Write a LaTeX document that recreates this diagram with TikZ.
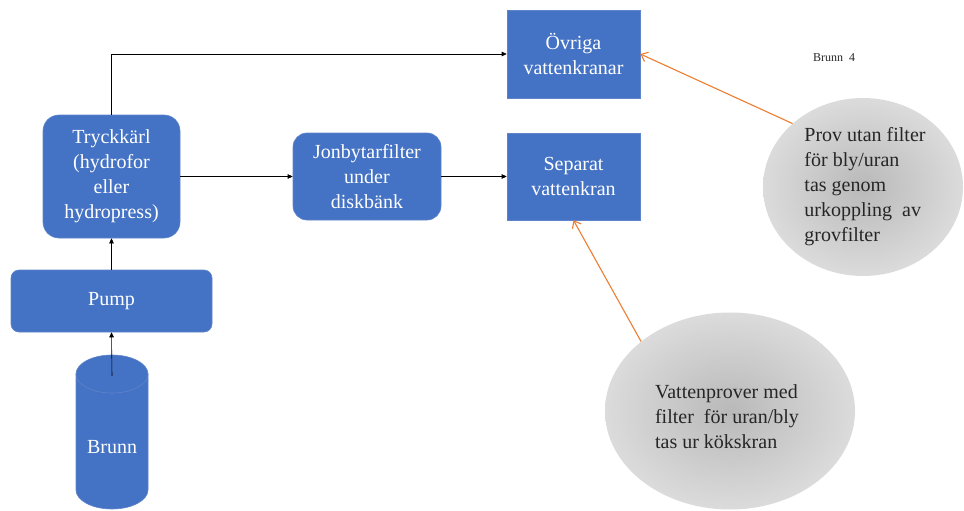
\documentclass[tikz,border=0pt]{standalone}
\usepackage{fontspec}
\setmainfont{Liberation Serif}
\newfontfamily\tnr{Liberation Serif}
\usetikzlibrary{shapes.geometric,arrows.meta}
\definecolor{boxblue}{HTML}{4472C4}
\definecolor{boxedge}{HTML}{5F84C9}
\definecolor{orangeline}{HTML}{ED7D31}
\definecolor{darktext}{HTML}{262626}
\tikzset{
  bluebox/.style={draw=boxedge, line width=0.6pt, fill=boxblue, text=white, align=center,
    font=\tnr\fontsize{20}{25}\selectfont, inner sep=0pt},
  roundbox/.style={bluebox, rounded corners=14pt},
  grayell/.style={ellipse, draw=none, inner color=gray!55, outer color=gray!28},
  ellText/.style={align=left, text=darktext, font=\tnr\fontsize{20}{25}\selectfont, inner sep=0pt},
  flow/.style={draw=black, line width=0.6pt, -{Triangle[length=5pt,width=4.5pt]}},
  note/.style={draw=orangeline, line width=1.1pt, -{Straight Barb[length=6pt,width=10pt]}},
}
\begin{document}
\begin{tikzpicture}[x=1pt,y=-1pt]
\useasboundingbox (0,0) rectangle (964,511);

% well cylinder
\path[draw=boxedge, line width=0.6pt, fill=boxblue]
  (76,374) -- (76,490) arc[start angle=180, end angle=0, x radius=36, y radius=19] -- (148,374) -- cycle;
\path[draw=boxedge, line width=0.6pt, fill=boxblue] (112,374) ellipse[x radius=36, y radius=19];
\node[text=white, font=\tnr\fontsize{20}{25}\selectfont] (brunn) at (112,447) {Brunn};
\coordinate (wellout) at (112,376);

\node[roundbox, minimum width=201pt, minimum height=62pt, rounded corners=8pt] (pump) at (111.5,301) {Pump};
\node[roundbox, minimum width=137pt, minimum height=123pt, rounded corners=16pt] (tryck) at (111.5,176.5)
  {Tryckkärl\\(hydrofor\\eller\\hydropress)};
\node[roundbox, minimum width=148pt, minimum height=87pt] (jon) at (367,176.5)
  {Jonbytarfilter\\under\\diskbänk};
\node[bluebox, minimum width=133pt, minimum height=88pt] (ovr) at (573.5,54) {Övriga\\vattenkranar};
\node[bluebox, minimum width=133pt, minimum height=87pt] (sep) at (573.5,176.5) {Separat\\vattenkran};

\node[font=\tnr\fontsize{12}{14}\selectfont, text=darktext] (label) at (834,58) {Brunn\ \ 4};

\node[grayell, minimum width=200pt, minimum height=178pt] (e1) at (863,187) {};
\node[ellText] (t1) at (865,187) {Prov utan filter\\för bly/uran\\tas genom\\urkoppling\ \ av\\grovfilter};
\node[grayell, minimum width=250pt, minimum height=197pt] (e2) at (730,411) {};
\node[ellText] (t2) at (727,416.5) {Vattenprover med\\filter\ \ för uran/bly\\tas ur kökskran};

% connectors
\draw[flow] (wellout) -- (pump.south);
\draw[flow] (pump.north) -- (tryck.south);
\draw[flow] (tryck.north) |- (ovr.west);
\draw[flow] (tryck.east) -- (jon.west);
\draw[flow] (jon.east) -- (sep.west);
\draw[note] (e1.138) -- (ovr.east);
\draw[note] (e2.142) -- (sep.south);
\end{tikzpicture}
\end{document}
